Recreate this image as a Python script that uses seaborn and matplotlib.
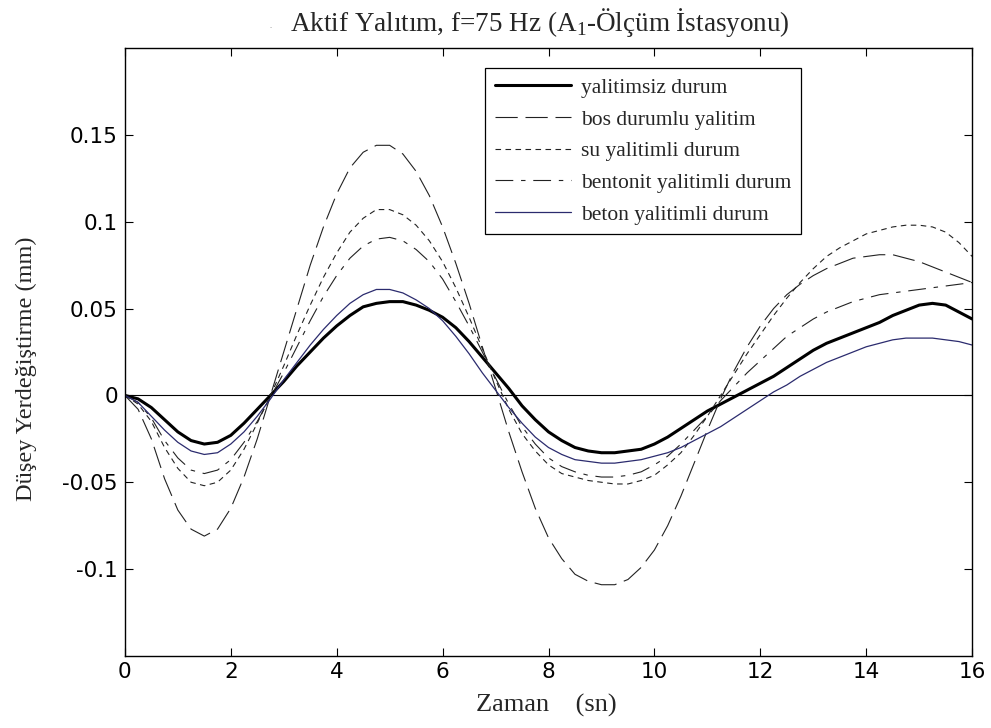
import numpy as np
import pandas as pd
import matplotlib
matplotlib.use("Agg")
import matplotlib.pyplot as plt
import seaborn as sns

# Sampling instants (s), every 0.25 s from 0 to 16
zaman = np.arange(0, 16.01, 0.25)

# Vertical displacement (mm) for each isolation case
yalitimsiz = [0.000, -0.002, -0.007, -0.014, -0.021, -0.026, -0.028, -0.027, -0.023, -0.016,
              -0.008, 0.000, 0.008, 0.017, 0.025, 0.033, 0.040, 0.046, 0.051, 0.053,
              0.054, 0.054, 0.052, 0.049, 0.045, 0.039, 0.031, 0.022, 0.013, 0.004,
              -0.006, -0.014, -0.021, -0.026, -0.030, -0.032, -0.033, -0.033, -0.032, -0.031,
              -0.028, -0.024, -0.019, -0.014, -0.009, -0.005, -0.001, 0.003, 0.007, 0.011,
              0.016, 0.021, 0.026, 0.030, 0.033, 0.036, 0.039, 0.042, 0.046, 0.049,
              0.052, 0.053, 0.052, 0.048, 0.044]

bos = [0.000, -0.008, -0.025, -0.048, -0.066, -0.077, -0.081, -0.077, -0.065, -0.047,
       -0.025, 0.000, 0.025, 0.050, 0.075, 0.097, 0.116, 0.131, 0.140, 0.144,
       0.144, 0.139, 0.129, 0.115, 0.097, 0.076, 0.053, 0.028, 0.004, -0.021,
       -0.044, -0.065, -0.082, -0.094, -0.103, -0.107, -0.109, -0.109, -0.106, -0.099,
       -0.089, -0.075, -0.058, -0.039, -0.020, -0.002, 0.014, 0.028, 0.040, 0.050,
       0.058, 0.064, 0.069, 0.073, 0.076, 0.079, 0.080, 0.081, 0.081, 0.079,
       0.077, 0.074, 0.071, 0.068, 0.065]

su = [0.000, -0.005, -0.015, -0.030, -0.042, -0.050, -0.052, -0.050, -0.043, -0.031,
      -0.016, 0.000, 0.017, 0.035, 0.052, 0.068, 0.082, 0.094, 0.102, 0.107,
      0.107, 0.104, 0.098, 0.089, 0.077, 0.062, 0.045, 0.027, 0.009, -0.008,
      -0.022, -0.032, -0.040, -0.045, -0.047, -0.049, -0.050, -0.051, -0.051, -0.049,
      -0.046, -0.040, -0.033, -0.023, -0.012, 0.000, 0.012, 0.024, 0.035, 0.046,
      0.056, 0.065, 0.073, 0.080, 0.085, 0.089, 0.093, 0.095, 0.097, 0.098,
      0.098, 0.097, 0.094, 0.088, 0.080]

bentonit = [0.000, -0.004, -0.013, -0.026, -0.036, -0.043, -0.045, -0.043, -0.037, -0.027,
            -0.015, -0.001, 0.013, 0.028, 0.043, 0.057, 0.069, 0.079, 0.086, 0.090,
            0.091, 0.089, 0.084, 0.077, 0.067, 0.054, 0.040, 0.025, 0.010, -0.005,
            -0.018, -0.028, -0.036, -0.041, -0.044, -0.046, -0.047, -0.047, -0.046, -0.044,
            -0.040, -0.035, -0.028, -0.020, -0.012, -0.003, 0.005, 0.013, 0.020, 0.027,
            0.034, 0.039, 0.044, 0.048, 0.051, 0.054, 0.056, 0.058, 0.059, 0.060,
            0.061, 0.062, 0.063, 0.064, 0.065]

beton = [0.000, -0.004, -0.012, -0.020, -0.027, -0.032, -0.034, -0.033, -0.028, -0.021,
         -0.012, -0.002, 0.009, 0.019, 0.029, 0.038, 0.046, 0.053, 0.058, 0.061,
         0.061, 0.059, 0.055, 0.050, 0.043, 0.034, 0.024, 0.013, 0.003, -0.007,
         -0.016, -0.024, -0.030, -0.034, -0.037, -0.038, -0.039, -0.039, -0.038, -0.037,
         -0.035, -0.033, -0.030, -0.026, -0.022, -0.018, -0.013, -0.008, -0.003, 0.002,
         0.006, 0.011, 0.015, 0.019, 0.022, 0.025, 0.028, 0.030, 0.032, 0.033,
         0.033, 0.033, 0.032, 0.031, 0.029]

labels = ["yalitimsiz durum", "bos durumlu yalitim", "su yalitimli durum",
          "bentonit yalitimli durum", "beton yalitimli durum"]
x_ticks = [0, 2, 4, 6, 8, 10, 12, 14, 16]
y_ticks = [-0.1, -0.05, 0, 0.05, 0.1, 0.15]
y_ticklabels = ["-0.1", "-0.05", "0", "0.05", "0.1", "0.15"]

sns.set_style("white")
plt.rcParams["mathtext.fontset"] = "custom"
plt.rcParams["mathtext.rm"] = "Liberation Serif"

fig = plt.figure(figsize=(9.91, 7.28), dpi=100)
ax = fig.add_axes([0.126, 0.099, 0.855, 0.835])

df = pd.DataFrame({"t": zaman, labels[0]: yalitimsiz, labels[1]: bos, labels[2]: su,
                   labels[3]: bentonit, labels[4]: beton})

styles = {
    labels[0]: dict(color="black", linewidth=2.2, linestyle="-"),
    labels[1]: dict(color="#222222", linewidth=0.8, linestyle=(0, (20, 7))),
    labels[2]: dict(color="#222222", linewidth=0.8, linestyle=(0, (5, 4))),
    labels[3]: dict(color="#222222", linewidth=0.8, linestyle=(0, (16, 7, 4, 7))),
    labels[4]: dict(color="#2b2b6e", linewidth=0.9, linestyle="-"),
}

for name in labels:
    sns.lineplot(data=df, x="t", y=name, ax=ax, label=name, **styles[name])

ax.axhline(0, color="black", linewidth=0.8, zorder=1)

tick_font = dict(fontsize=15.5, family="DejaVu Sans")
ax.set_xlim(0, 16)
ax.set_ylim(-0.15, 0.2)
ax.set_xticks(x_ticks)
ax.set_xticklabels([str(v) for v in x_ticks], **tick_font)
ax.set_yticks(y_ticks)
ax.set_yticklabels(y_ticklabels, **tick_font)
ax.tick_params(direction="in", length=6, width=0.8, top=True, right=True,
               bottom=True, left=True, colors="black")
ax.tick_params(axis="x", pad=4.5)
ax.tick_params(axis="y", pad=5.0)
for s in ax.spines.values():
    s.set_color("black")
    s.set_linewidth(1.0)

ax.set_xlabel("Zaman    (sn)", fontsize=19, family="Liberation Serif")
ax.xaxis.set_label_coords(0.497, -0.0625)
ax.set_ylabel("Düşey Yerdeğiştirme (mm)", fontsize=17.5, family="Liberation Serif")
ax.yaxis.set_label_coords(-0.104, 0.472)

fig.text(0.545, 0.9574, r"Aktif Yalıtım, f=75 Hz (A$_1$-Ölçüm İstasyonu)", fontsize=19.5,
         family="Liberation Serif", ha="center", va="baseline")
fig.text(0.272, 0.9615, ".", fontsize=6, color="#888888", family="Liberation Serif")

leg = ax.legend(loc="upper left", bbox_to_anchor=(0.4252, 0.967), borderaxespad=0,
                frameon=True, fancybox=False, edgecolor="black", framealpha=1,
                handlelength=3.56, labelspacing=0.54, borderpad=0.45, handletextpad=0.44,
                prop={"family": "Liberation Serif", "size": 15.5})
leg.get_frame().set_linewidth(0.9)

fig.savefig("out.png", dpi=100)
